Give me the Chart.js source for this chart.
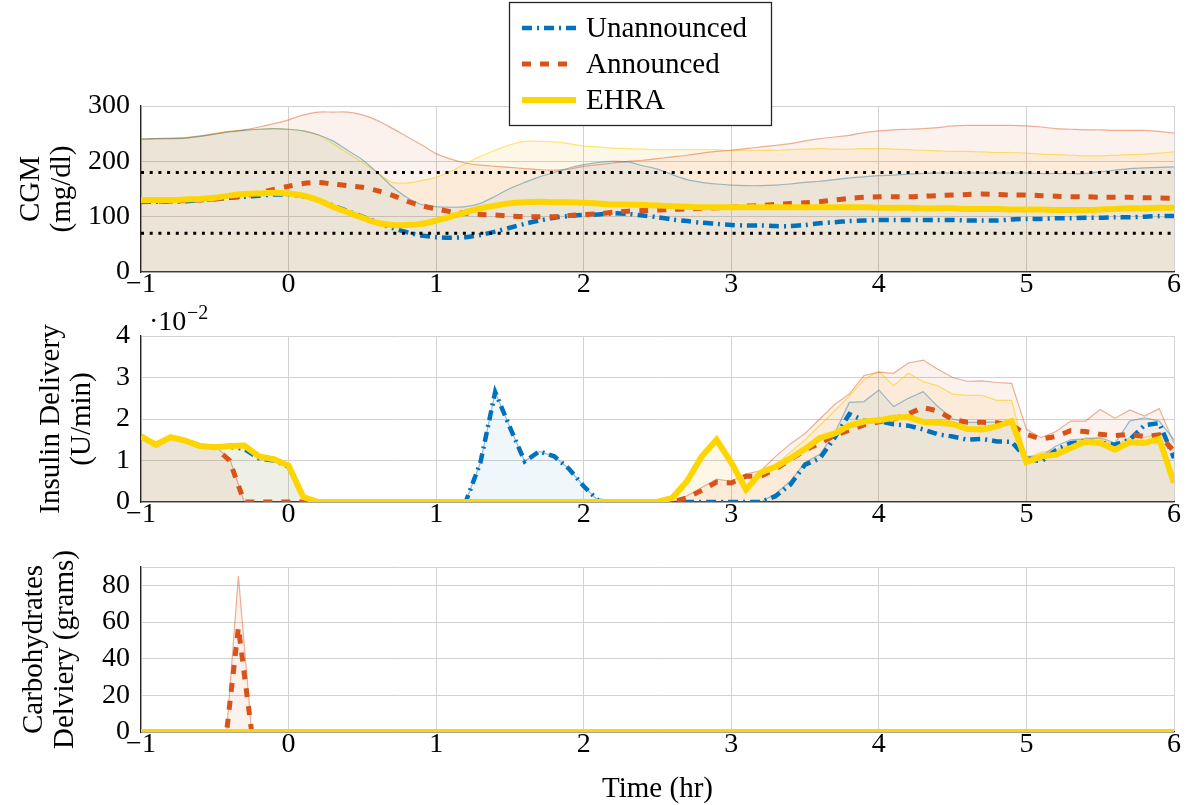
<!DOCTYPE html>
<html>
<head>
<meta charset="utf-8">
<title>CGM / insulin / carbohydrates</title>
<script src="https://cdn.jsdelivr.net/npm/chart.js@4.4.1/dist/chart.umd.min.js"></script>
<style>
  html, body { margin: 0; padding: 0; background: #fff; }
  #wrap { position: relative; width: 1189px; height: 805px; overflow: hidden; }
  #wrap canvas { position: absolute; left: 0; }
</style>
</head>
<body>
<div id="wrap">
  <canvas id="cgm-chart" width="1189" height="300" style="top:0"></canvas>
  <canvas id="insulin-chart" width="1189" height="232" style="top:300px"></canvas>
  <canvas id="carbs-chart" width="1189" height="273" style="top:532px"></canvas>
</div>
<script>
// time axis (hr), one sample every 6 min
const time = [
  -1.0, -0.9, -0.8, -0.7, -0.6, -0.5, -0.4, -0.3, -0.2, -0.1,
  0.0, 0.1, 0.2, 0.3, 0.4, 0.5, 0.6, 0.7, 0.8, 0.9,
  1.0, 1.1, 1.2, 1.3, 1.4, 1.5, 1.6, 1.7, 1.8, 1.9,
  2.0, 2.1, 2.2, 2.3, 2.4, 2.5, 2.6, 2.7, 2.8, 2.9,
  3.0, 3.1, 3.2, 3.3, 3.4, 3.5, 3.6, 3.7, 3.8, 3.9,
  4.0, 4.1, 4.2, 4.3, 4.4, 4.5, 4.6, 4.7, 4.8, 4.9,
  5.0, 5.1, 5.2, 5.3, 5.4, 5.5, 5.6, 5.7, 5.8, 5.9,
  6.0
];
const xTicks = [-1, 0, 1, 2, 3, 4, 5, 6];
const cgmTicks = [0, 100, 200, 300];
const insulinTicks = [0, 1, 2, 3, 4];
const carbTicks = [0, 20, 40, 60, 80, 90];   // 90 = frame, no label
const seriesNames = ['Unannounced', 'Announced', 'EHRA'];

// CGM (mg/dl) - mean
const cgmUnannounced = [
  127, 127, 128, 128, 130, 132, 134, 136, 138, 140,
  140, 137, 130, 120, 110, 100, 90, 80, 72, 66,
  63, 62, 63, 67, 73, 80, 87, 93, 98, 101,
  103, 104, 106, 105, 102, 99, 95, 92, 89, 87,
  85, 84, 84, 83, 83, 85, 88, 90, 92, 93,
  94, 94, 94, 94, 94, 94, 93, 93, 93, 95,
  96, 96, 97, 97, 98, 98, 99, 99, 100, 101,
  101
];
const cgmAnnounced = [
  127, 128, 128, 129, 130, 132, 135, 138, 143, 149,
  155, 160, 162, 159, 156, 153, 147, 139, 128, 120,
  114, 109, 106, 104, 103, 101, 100, 100, 100, 102,
  104, 105, 108, 110, 111, 112, 113, 114, 115, 116,
  117, 119, 120, 122, 124, 125, 127, 130, 133, 135,
  136, 136, 136, 137, 138, 139, 140, 141, 140, 139,
  139, 138, 137, 136, 136, 135, 135, 135, 134, 134,
  133
];
const cgmEhra = [
  130, 130, 130, 131, 132, 134, 138, 141, 142, 143,
  142, 138, 130, 118, 108, 98, 89, 85, 85, 87,
  93, 100, 108, 115, 120, 124, 126, 127, 126, 126,
  125, 124, 122, 122, 121, 120, 119, 118, 117, 117,
  117, 117, 117, 117, 117, 117, 117, 117, 117, 117,
  116, 116, 116, 115, 115, 115, 114, 114, 114, 113,
  113, 113, 112, 112, 112, 113, 114, 115, 115, 116,
  116
];
// CGM (mg/dl) - upper edge of the shaded spread
const cgmUnannouncedUpper = [
  240, 241, 241, 242, 245, 249, 253, 256, 258, 259,
  258, 255, 248, 237, 220, 203, 180, 155, 135, 122,
  118, 117, 118, 124, 137, 151, 162, 172, 180, 188,
  194, 198, 200, 199, 192, 186, 176, 167, 162, 159,
  157, 156, 156, 157, 159, 162, 164, 167, 170, 172,
  174, 175, 177, 178, 179, 179, 179, 179, 179, 179,
  179, 178, 178, 178, 178, 181, 184, 187, 188, 189,
  190
];
const cgmAnnouncedUpper = [
  240, 241, 242, 243, 246, 250, 254, 257, 262, 268,
  275, 284, 289, 289, 289, 284, 274, 260, 245, 230,
  214, 204, 197, 193, 191, 189, 187, 185, 184, 186,
  191, 194, 197, 200, 202, 205, 208, 211, 215, 218,
  220, 223, 226, 229, 232, 237, 241, 244, 247, 252,
  255, 257, 258, 259, 261, 264, 265, 265, 265, 265,
  264, 262, 259, 258, 257, 257, 256, 256, 256, 254,
  251
];
const cgmEhraUpper = [
  240, 241, 241, 242, 245, 250, 254, 257, 258, 259,
  258, 255, 248, 232, 215, 198, 180, 162, 161, 165,
  171, 182, 196, 209, 220, 230, 236, 236, 235, 232,
  228, 226, 224, 223, 222, 221, 221, 221, 221, 221,
  220, 220, 220, 220, 221, 222, 223, 222, 222, 223,
  223, 222, 221, 220, 219, 218, 218, 217, 216, 216,
  215, 213, 212, 211, 210, 210, 211, 212, 213, 215,
  217
];
const hypoLimit = 70;
const hyperLimit = 180;

// insulin delivery (x 1e-2 U/min) - mean
const insulinUnannounced = [
  1.58, 1.38, 1.56, 1.48, 1.35, 1.33, 1.33, 1.28, 1.05, 1.00,
  0.85, 0.10, 0, 0, 0, 0, 0, 0, 0, 0,
  0, 0, 0, 0.95, 2.65, 1.80, 0.98, 1.22, 1.10, 0.80,
  0.38, 0.03, 0, 0, 0, 0, 0, 0, 0, 0,
  0, 0, 0, 0.14, 0.42, 0.90, 1.05, 1.55, 2.12, 1.96,
  1.95, 1.87, 1.84, 1.75, 1.63, 1.58, 1.50, 1.52, 1.46, 1.45,
  1.05, 0.98, 1.25, 1.42, 1.46, 1.43, 1.38, 1.50, 1.85, 1.90,
  1.06
];
const insulinAnnounced = [
  1.58, 1.38, 1.56, 1.48, 1.35, 1.32, 1.00, 0, 0, 0,
  0, 0, 0, 0, 0, 0, 0, 0, 0, 0,
  0, 0, 0, 0, 0, 0, 0, 0, 0, 0,
  0, 0, 0, 0, 0, 0, 0, 0.10, 0.28, 0.48,
  0.46, 0.62, 0.62, 0.80, 1.02, 1.25, 1.42, 1.60, 1.73, 1.86,
  1.93, 2.00, 2.12, 2.28, 2.19, 1.99, 1.92, 1.92, 1.91, 1.85,
  1.63, 1.52, 1.58, 1.72, 1.70, 1.63, 1.60, 1.63, 1.58, 1.62,
  1.22
];
const insulinEhra = [
  1.58, 1.38, 1.56, 1.48, 1.35, 1.32, 1.35, 1.36, 1.10, 1.03,
  0.88, 0.12, 0, 0, 0, 0, 0, 0, 0, 0,
  0, 0, 0, 0, 0, 0, 0, 0, 0, 0,
  0, 0, 0, 0, 0, 0, 0.10, 0.50, 1.10, 1.50,
  0.95, 0.30, 0.71, 0.85, 1.05, 1.28, 1.54, 1.65, 1.84, 1.94,
  1.97, 2.03, 2.05, 1.93, 1.91, 1.88, 1.76, 1.75, 1.82, 1.95,
  0.96, 1.10, 1.14, 1.30, 1.45, 1.42, 1.26, 1.44, 1.42, 1.52,
  0.46
];
// insulin delivery (x 1e-2 U/min) - upper edge of the spread
const insulinUnannouncedUpper = [
  1.60, 1.40, 1.58, 1.50, 1.37, 1.35, 1.36, 1.38, 1.12, 1.05,
  0.90, 0.14, 0, 0, 0, 0, 0, 0, 0, 0,
  0, 0, 0, 0.95, 2.65, 1.80, 0.98, 1.22, 1.10, 0.80,
  0.38, 0.03, 0, 0, 0, 0, 0, 0, 0, 0,
  0, 0, 0, 0.20, 0.50, 0.95, 1.15, 1.65, 2.40, 2.42,
  2.70, 2.30, 2.50, 2.66, 2.30, 2.00, 1.92, 1.92, 1.93, 1.95,
  1.10, 1.10, 1.35, 1.50, 1.52, 1.55, 1.42, 1.95, 2.03, 1.95,
  1.50
];
const insulinAnnouncedUpper = [
  1.60, 1.40, 1.58, 1.50, 1.37, 1.34, 1.05, 0, 0, 0,
  0, 0, 0, 0, 0, 0, 0, 0, 0, 0,
  0, 0, 0, 0, 0, 0, 0, 0, 0, 0,
  0, 0, 0, 0, 0, 0, 0, 0.15, 0.35, 0.55,
  0.50, 0.68, 0.75, 1.10, 1.40, 1.65, 2.00, 2.35, 2.60, 3.05,
  3.13, 3.10, 3.35, 3.42, 3.20, 3.00, 2.91, 2.92, 2.88, 2.86,
  1.75, 1.55, 1.70, 1.95, 1.95, 2.23, 2.02, 2.22, 2.07, 2.25,
  1.42
];
const insulinEhraUpper = [
  1.60, 1.40, 1.58, 1.50, 1.37, 1.34, 1.37, 1.38, 1.12, 1.05,
  0.90, 0.14, 0, 0, 0, 0, 0, 0, 0, 0,
  0, 0, 0, 0, 0, 0, 0, 0, 0, 0,
  0, 0, 0, 0, 0, 0, 0.10, 0.50, 1.10, 1.52,
  0.97, 0.35, 0.72, 0.90, 1.20, 1.50, 1.85, 2.20, 2.55, 2.95,
  3.15, 2.80, 3.11, 2.90, 2.80, 2.60, 2.57, 2.57, 2.45, 2.45,
  1.05, 1.20, 1.25, 1.40, 1.55, 1.52, 1.36, 1.55, 1.55, 1.67,
  0.50
];

// carbohydrates (grams), only the meal around -0.34 hr
const carbTime = [-1, -0.42, -0.34, -0.25, 6];
const carbUnannounced = [0, 0, 0, 0, 0];
const carbAnnounced = [0, 0, 57, 0, 0];
const carbEhra = [0, 0, 0, 0, 0];
const carbAnnouncedUpper = [0, 0, 85, 0, 0];

// ---- styles ----
const styles = [
  { color: '#0072BD', band: 'rgba(0,114,189,0.06)', edge: 'rgba(60,130,170,0.5)', dash: [10, 5, 2, 5], width: 4.5 },
  { color: '#D95319', band: 'rgba(217,83,25,0.08)', edge: 'rgba(217,83,25,0.45)', dash: [9, 9], width: 5 },
  { color: '#FFD500', band: 'rgba(237,177,32,0.10)', edge: 'rgba(255,213,0,0.55)', dash: [], width: 6 }
];
const serif = "'Liberation Serif', 'DejaVu Serif', serif";
const tickFont = { family: serif, size: 28 };
const titleFont = { family: serif, size: 29, lineHeight: 1.1 };
const gridColor = '#d2d2d2';
const axisColor = '#262626';

const toPoints = (xs, ys) => xs.map((x, i) => ({ x: x, y: ys[i] }));
const fmtTick = v => (v < 0 ? '\u2212' + Math.abs(v) : String(v));

function buildDatasets(xs, means, uppers, tension) {
  const sets = [];
  uppers.forEach((up, i) => {
    if (!up) return;
    sets.push({
      data: toPoints(xs, up),
      borderColor: styles[i].edge,
      borderWidth: 1.2,
      backgroundColor: styles[i].band,
      fill: 'origin',
      pointRadius: 0,
      tension: tension,
      order: 10 + i
    });
  });
  means.forEach((m, i) => {
    sets.push({
      label: seriesNames[i],
      data: toPoints(xs, m),
      borderColor: styles[i].color,
      borderWidth: styles[i].width,
      borderDash: styles[i].dash,
      borderCapStyle: 'butt',
      fill: false,
      pointRadius: 0,
      tension: tension,
      order: 3 - i
    });
  });
  return sets;
}

function buildOptions(cfg) {
  const yTop = cfg.yTicks[cfg.yTicks.length - 1];
  return {
    responsive: false,
    animation: false,
    events: [],
    layout: { padding: cfg.padding },
    plugins: { legend: { display: false }, tooltip: { enabled: false } },
    scales: {
      x: {
        type: 'linear',
        min: -1,
        max: 6,
        afterBuildTicks: s => { s.ticks = xTicks.map(v => ({ value: v })); },
        afterFit: s => { s.height = cfg.xHeight; },
        ticks: { font: tickFont, color: '#000', padding: -4, maxRotation: 0, autoSkip: false, callback: fmtTick },
        grid: { color: gridColor, lineWidth: 1, drawTicks: false },
        border: { color: axisColor, width: 1.3 },
        title: cfg.xTitle
          ? { display: true, text: cfg.xTitle, font: titleFont, color: '#000', padding: { top: 0, bottom: 0 } }
          : { display: false }
      },
      y: {
        min: cfg.yTicks[0],
        max: yTop,
        afterBuildTicks: s => { s.ticks = cfg.yTicks.map(v => ({ value: v })); },
        afterFit: s => { s.width = 141; },
        ticks: {
          font: tickFont,
          color: '#000',
          padding: 11,
          autoSkip: false,
          callback: v => (cfg.hideTop && v === yTop ? '' : fmtTick(v))
        },
        grid: { color: gridColor, lineWidth: 1, drawTicks: false },
        border: { color: axisColor, width: 1.3 },
        title: { display: true, text: cfg.yTitle, font: titleFont, color: '#000', padding: { top: cfg.titlePad, bottom: 0 } }
      }
    }
  };
}

// legend drawn in a framed box above the top panel
const legendBox = {
  id: 'legendBox',
  afterDraw(chart) {
    const ctx = chart.ctx;
    const items = chart.data.datasets.filter(d => d.label);
    const box = { x: 509.5, y: 2.5, w: 262, h: 123 };
    ctx.save();
    ctx.fillStyle = '#fff';
    ctx.fillRect(box.x, box.y, box.w, box.h);
    ctx.strokeStyle = axisColor;
    ctx.lineWidth = 1.3;
    ctx.strokeRect(box.x, box.y, box.w, box.h);
    ctx.font = "29px " + serif;
    ctx.textBaseline = 'middle';
    items.forEach((d, i) => {
      const y = 28 + i * 36;
      ctx.beginPath();
      ctx.setLineDash(d.borderDash || []);
      ctx.lineCap = 'butt';
      ctx.strokeStyle = d.borderColor;
      ctx.lineWidth = d.borderWidth;
      ctx.moveTo(522, y);
      ctx.lineTo(576, y);
      ctx.stroke();
      ctx.setLineDash([]);
      ctx.fillStyle = '#000';
      ctx.fillText(d.label, 586, y + 1);
    });
    ctx.restore();
  }
};

// "·10^-2" scale factor above the insulin panel
const exponentLabel = {
  id: 'exponentLabel',
  afterDraw(chart) {
    const ctx = chart.ctx;
    const a = chart.chartArea;
    ctx.save();
    ctx.fillStyle = '#000';
    ctx.textBaseline = 'alphabetic';
    ctx.font = "28px " + serif;
    ctx.fillText('\u00b710', a.left + 8, a.top - 6);
    ctx.font = "20px " + serif;
    ctx.fillText('\u22122', a.left + 46, a.top - 17);
    ctx.restore();
  }
};

// dotted glucose target range
const limitLine = value => ({
  data: [{ x: time[0], y: value }, { x: time[time.length - 1], y: value }],
  borderColor: '#000',
  borderWidth: 3,
  borderDash: [3, 5.7],
  borderCapStyle: 'butt',
  pointRadius: 0,
  fill: false,
  order: 0
});

const cgmSets = buildDatasets(time,
  [cgmUnannounced, cgmAnnounced, cgmEhra],
  [cgmUnannouncedUpper, cgmAnnouncedUpper, cgmEhraUpper], 0.3);
cgmSets.push(limitLine(hypoLimit), limitLine(hyperLimit));

new Chart(document.getElementById('cgm-chart'), {
  type: 'line',
  data: { datasets: cgmSets },
  options: buildOptions({
    padding: { top: 106, right: 15, left: 0, bottom: 0 },
    xHeight: 28,
    yTicks: cgmTicks,
    yTitle: ['CGM', '(mg/dl)'], titlePad: 15
  }),
  plugins: [legendBox]
});

new Chart(document.getElementById('insulin-chart'), {
  type: 'line',
  data: {
    datasets: buildDatasets(time,
      [insulinUnannounced, insulinAnnounced, insulinEhra],
      [insulinUnannouncedUpper, insulinAnnouncedUpper, insulinEhraUpper], 0)
  },
  options: buildOptions({
    padding: { top: 36, right: 15, left: 0, bottom: 0 },
    xHeight: 30,
    yTicks: insulinTicks,
    yTitle: ['Insulin Delivery', '(U/min)'], titlePad: 35
  }),
  plugins: [exponentLabel]
});

new Chart(document.getElementById('carbs-chart'), {
  type: 'line',
  data: {
    datasets: buildDatasets(carbTime,
      [carbUnannounced, carbAnnounced, carbEhra],
      [null, carbAnnouncedUpper, null], 0)
  },
  options: buildOptions({
    padding: { top: 35, right: 15, left: 0, bottom: 0 },
    xHeight: 73,
    xTitle: 'Time (hr)',
    yTicks: carbTicks, hideTop: true,
    yTitle: ['Carbohydrates', 'Delviery (grams)'], titlePad: 18
  })
});
</script>
</body>
</html>
